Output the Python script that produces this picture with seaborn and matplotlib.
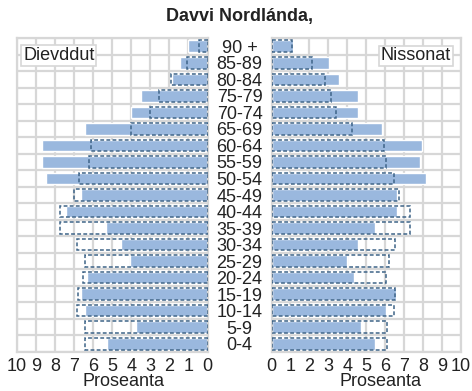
import numpy as np
import seaborn as sns
import matplotlib.pyplot as plt

# ======================
# DATA (percent of population per age group)
# ======================
AGES = ["0-4", "5-9", "10-14", "15-19", "20-24", "25-29", "30-34", "35-39",
        "40-44", "45-49", "50-54", "55-59", "60-64", "65-69", "70-74",
        "75-79", "80-84", "85-89", "90 +"]
MEN = [5.27, 3.74, 6.43, 6.65, 6.35, 4.05, 4.53, 5.33, 7.44, 6.65,
       8.5, 8.7, 8.7, 6.42, 4.04, 3.51, 1.87, 1.44, 1.04]
MEN_REF = [6.45, 6.45, 6.84, 6.82, 6.52, 6.45, 6.86, 7.74, 7.74, 7.0,
           6.74, 6.24, 6.12, 4.04, 3.03, 2.54, 1.9, 1.06, 0.44]
WOMEN = [5.47, 4.73, 6.05, 6.58, 4.36, 3.97, 4.55, 5.47, 6.61, 6.61,
         8.15, 7.85, 7.95, 5.84, 4.55, 4.55, 3.56, 3.03, 1.11]
WOMEN_REF = [6.12, 6.12, 6.44, 6.52, 6.05, 6.22, 6.52, 7.32, 7.32, 6.74,
             6.44, 6.03, 5.94, 4.23, 3.42, 3.12, 2.84, 2.12, 1.1]
XTICKS = list(range(0, 11))

TITLE = "Davvi Nordlánda,"
LEFT_LABEL = "Dievddut"
RIGHT_LABEL = "Nissonat"
XLABEL = "Proseanta"

# ======================
# STYLE
# ======================
BLUE = "#9ab8de"
DASH = "#3e6488"
GRID = "#d7d7d7"
TEXT = "#222222"

sns.set_style("white")
plt.rcParams["font.family"] = ["Liberation Sans", "DejaVu Sans"]
plt.rcParams["font.size"] = 13
plt.rcParams["text.color"] = TEXT
plt.rcParams["xtick.color"] = TEXT
plt.rcParams["ytick.color"] = TEXT
plt.rcParams["axes.labelcolor"] = TEXT

fig = plt.figure(figsize=(4.72, 3.91), dpi=100)
W, H = 472, 391


def box(x0, x1, y0, y1):
    return [x0 / W, 1 - y1 / H, (x1 - x0) / W, (y1 - y0) / H]


ax_l = fig.add_axes(box(17, 207.5, 38, 352))
ax_r = fig.add_axes(box(271.5, 461, 38, 352))

order = AGES[::-1]

for ax, vals, ref in [(ax_l, MEN, MEN_REF), (ax_r, WOMEN, WOMEN_REF)]:
    sns.barplot(x=vals, y=AGES, order=order, orient="h", color=BLUE,
                saturation=1, width=0.7, errorbar=None, ax=ax, zorder=2)
    sns.barplot(x=ref, y=AGES, order=order, orient="h", fill=False,
                color=DASH, width=0.7, errorbar=None, ax=ax,
                linestyle=(0, (2.5, 1.5)), linewidth=1.1, zorder=3)
    ax.set_xticks(XTICKS)
    ax.set_yticks(np.arange(-0.5, len(AGES), 1), minor=True)
    ax.set_ylim(len(AGES) - 0.5, -0.5)
    ax.grid(True, which="major", axis="x", color=GRID, lw=1.6)
    ax.grid(True, which="minor", axis="y", color=GRID, lw=1.6)
    ax.set_axisbelow(True)
    ax.tick_params(which="both", length=0)
    ax.tick_params(axis="x", pad=4, labelsize=13)
    for s in ax.spines.values():
        s.set_visible(True)
        s.set_color(GRID)
        s.set_linewidth(1.6)
    ax.set_ylabel("")
    ax.set_xlabel(XLABEL, fontsize=13)

ax_l.set_xlim(10, 0)
ax_r.set_xlim(0, 10)
ax_l.set_yticklabels([])
ax_r.set_yticklabels(order, ha="center", fontsize=13)
ax_r.tick_params(axis="y", pad=23)

ax_l.xaxis.set_label_coords(0.56, -0.068)
ax_r.xaxis.set_label_coords(0.573, -0.068)

bbox = dict(boxstyle="square,pad=0.1", fc="white", ec=GRID, lw=1.2)
ax_l.text(0.22, 0.945, LEFT_LABEL, transform=ax_l.transAxes, ha="center",
          va="center", fontsize=13, bbox=bbox, zorder=5)
ax_r.text(0.763, 0.943, RIGHT_LABEL, transform=ax_r.transAxes, ha="center",
          va="center", fontsize=13, bbox=bbox, zorder=5)

fig.text(239 / W, 1 - 17 / H, TITLE, ha="center", va="center",
         fontsize=13, fontweight="bold")

plt.savefig("out.png", dpi=100)
